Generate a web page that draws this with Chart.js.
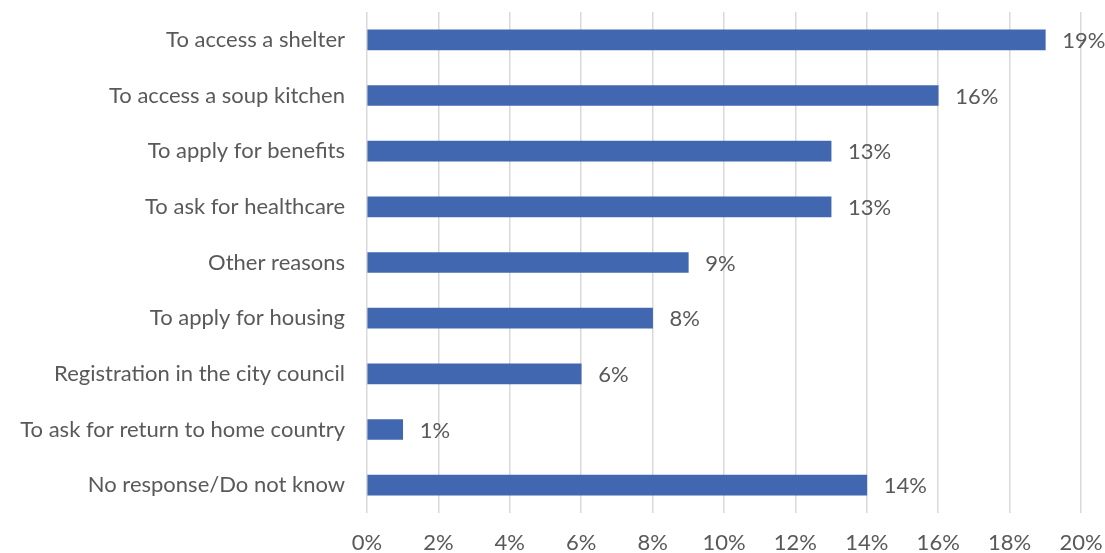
<!DOCTYPE html>
<html>
<head>
<meta charset="utf-8">
<script src="https://cdn.jsdelivr.net/npm/chart.js@4/dist/chart.umd.min.js"></script>
<style>
  html, body { margin: 0; padding: 0; background: #ffffff; }
  #wrap { width: 1105px; height: 553px; position: relative; }
</style>
</head>
<body>
<div id="wrap"><canvas id="c"></canvas></div>
<script>
// Reasons for contacting services (share of respondents, %)
const categories = [
  "To access a shelter",
  "To access a soup kitchen",
  "To apply for benefits",
  "To ask for healthcare",
  "Other reasons",
  "To apply for housing",
  "Registration in the city council",
  "To ask for return to home country",
  "No response/Do not know"
];
const shares = [19, 16, 13, 13, 9, 8, 6, 1, 14];
const xTicks = [0, 2, 4, 6, 8, 10, 12, 14, 16, 18, 20];

const FONT = "Lato, 'Open Sans', sans-serif";
const TEXT = "#595959";

// Writes the percentage to the right of each bar
const valueLabels = {
  id: "valueLabels",
  afterDatasetsDraw(chart) {
    const ctx = chart.ctx;
    const meta = chart.getDatasetMeta(0);
    ctx.save();
    ctx.font = "22px " + FONT;
    ctx.fillStyle = TEXT;
    ctx.textAlign = "left";
    ctx.textBaseline = "middle";
    meta.data.forEach((bar, i) => {
      ctx.fillText(shares[i] + "%", bar.x + 17, bar.y + 1);
    });
    ctx.restore();
  }
};

new Chart(document.getElementById("c"), {
  type: "bar",
  data: {
    labels: categories,
    datasets: [{
      data: shares,
      backgroundColor: "#4267b1",
      barThickness: 20
    }]
  },
  options: {
    indexAxis: "y",
    responsive: true,
    maintainAspectRatio: false,
    animation: false,
    layout: { padding: { top: 12, right: 24, left: 0, bottom: 0 } },
    plugins: { legend: { display: false }, tooltip: { enabled: false } },
    scales: {
      x: {
        min: 0,
        max: 20,
        afterBuildTicks(scale) { scale.ticks = xTicks.map(v => ({ value: v })); },
        afterFit(scale) {
          scale.height = 40;
          scale.paddingLeft = 0;
          scale.paddingRight = 0;
        },
        grid: { color: "#d9d9d9", lineWidth: 1.5, drawTicks: false },
        border: { display: false },
        ticks: {
          padding: 17,
          color: TEXT,
          maxRotation: 0,
          font: { family: FONT, size: 22 },
          callback: v => v + "%"
        }
      },
      y: {
        afterFit(scale) {
          scale.width = 367;
          scale.paddingTop = 0;
          scale.paddingBottom = 0;
        },
        grid: { display: false, drawTicks: false },
        border: { display: false },
        ticks: {
          padding: 22,
          color: TEXT,
          font: { family: FONT, size: 22 }
        }
      }
    }
  },
  plugins: [valueLabels]
});
</script>
</body>
</html>
